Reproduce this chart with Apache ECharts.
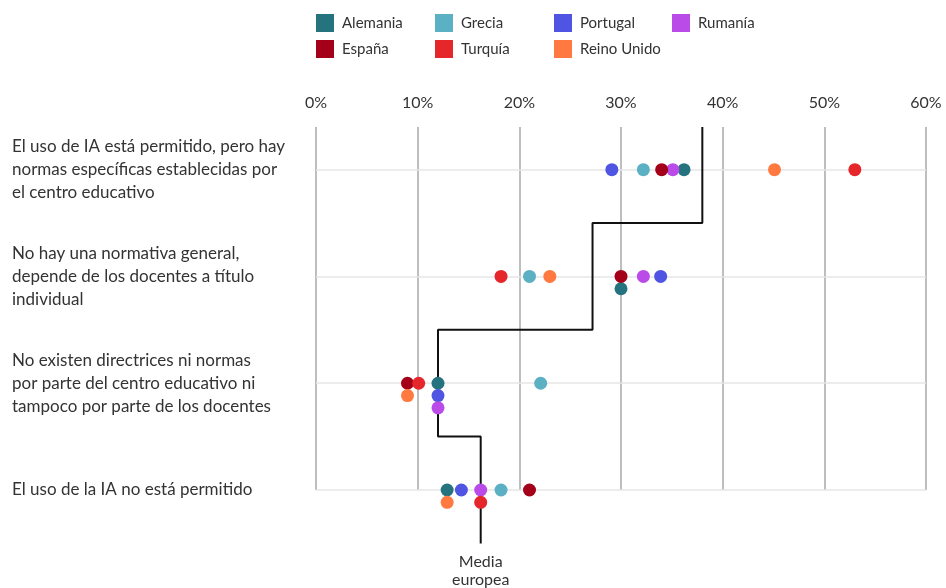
<!DOCTYPE html>
<html>
<head>
<meta charset="utf-8">
<script src="https://cdn.jsdelivr.net/npm/echarts@6/dist/echarts.min.js"></script>
<style>
  html, body { margin: 0; padding: 0; background: #fff; }
  #chart { width: 946px; height: 588px; }
</style>
</head>
<body>
<div id="chart"></div>
<script>
// filas (categorías)
const rowLabels = [
  'El uso de IA está permitido, pero hay\nnormas específicas establecidas por\nel centro educativo',
  'No hay una normativa general,\ndepende de los docentes a título\nindividual',
  'No existen directrices ni normas\npor parte del centro educativo ni\ntampoco por parte de los docentes',
  'El uso de la IA no está permitido'
];
const xTicks = [0, 10, 20, 30, 40, 50, 60];

// valores por país (%), una entrada por fila
const alemania = [36.2, 30.0, 12.0, 12.9];
const grecia = [32.2, 21.0, 22.1, 18.2];
const portugal = [29.1, 33.9, 12.0, 14.3];
const rumania = [35.1, 32.2, 12.0, 16.2];
const espana = [34.0, 30.0, 9.0, 21.0];
const turquia = [53.0, 18.2, 10.1, 16.2];
const reinoUnido = [45.1, 23.0, 9.0, 12.9];
const mediaEuropea = [38.0, 27.2, 12.0, 16.2];

const countries = [
  { name: 'Alemania', color: '#267380', data: alemania },
  { name: 'Grecia', color: '#5BB0C4', data: grecia },
  { name: 'Portugal', color: '#4F55E2', data: portugal },
  { name: 'Rumanía', color: '#BA4BE8', data: rumania },
  { name: 'España', color: '#A4001A', data: espana },
  { name: 'Turquía', color: '#E5262B', data: turquia },
  { name: 'Reino Unido', color: '#FF7940', data: reinoUnido }
];
// orden de apilado cuando dos países coinciden
const stackOrder = ['España', 'Alemania', 'Portugal', 'Rumanía', 'Reino Unido', 'Turquía', 'Grecia'];
const legendCols = [['Alemania', 'España'], ['Grecia', 'Turquía'], ['Portugal', 'Reino Unido'], ['Rumanía']];
const legendLeft = [316, 435, 554, 672];

const FONT = 'Lato';
const YMIN = -0.4;

// cuántos puntos hay ya en el mismo valor -> desplazamiento hacia abajo
const stackIdx = {};
rowLabels.forEach((_, r) => {
  const seen = {};
  stackOrder.forEach(n => {
    const c = countries.find(c => c.name === n);
    const key = c.data[r].toFixed(1);
    seen[key] = (seen[key] || 0);
    stackIdx[n + '_' + r] = seen[key];
    seen[key]++;
  });
});

const scatterSeries = countries.map(c => ({
  name: c.name,
  type: 'scatter',
  z: 4,
  symbolSize: 13,
  itemStyle: { color: c.color, opacity: 1 },
  data: c.data.map((v, r) => ({
    value: [v, r],
    symbolOffset: [0, stackIdx[c.name + '_' + r] * 12.3]
  }))
}));

// línea escalonada de la media
const meanPts = [];
mediaEuropea.forEach((m, r) => {
  meanPts.push([m, r === 0 ? YMIN : r - 0.5]);
  meanPts.push([m, r + 0.5]);
});
const lastPt = meanPts.pop();
meanPts.push({
  value: lastPt,
  label: {
    show: true, position: 'bottom', distance: 9,
    formatter: 'Media\neuropea',
    fontFamily: FONT, fontSize: 16, lineHeight: 18, color: '#333', align: 'center'
  }
});

const myChart = echarts.init(document.getElementById('chart'));
const option = {
  animation: false,
  textStyle: { fontFamily: FONT },
  legend: legendCols.map((col, i) => ({
    data: col,
    orient: 'vertical',
    left: legendLeft[i],
    top: 14,
    padding: 0,
    itemWidth: 18,
    itemHeight: 18,
    itemGap: 8,
    icon: 'rect',
    selectedMode: false,
    textStyle: { fontFamily: FONT, fontSize: 15, color: '#333', padding: [0, 0, 0, 3] }
  })),
  grid: { left: 316, right: 20, top: 127, bottom: 98, containLabel: false },
  xAxis: {
    type: 'value',
    position: 'top',
    min: xTicks[0],
    max: xTicks[xTicks.length - 1],
    interval: 10,
    axisLine: { show: false },
    axisTick: { show: false },
    axisLabel: { formatter: '{value}%', fontFamily: FONT, fontSize: 16, color: '#333', margin: 16 },
    splitLine: { show: true, lineStyle: { color: '#a8a8a8', width: 1.5 } }
  },
  yAxis: {
    type: 'value',
    inverse: true,
    min: YMIN,
    max: rowLabels.length - 1,
    axisLine: { show: false },
    axisTick: { show: false },
    splitLine: { show: false },
    axisLabel: {
      customValues: rowLabels.map((_, i) => i),
      formatter: v => rowLabels[Math.round(v)] || '',
      align: 'left',
      margin: 304,
      fontFamily: FONT, fontSize: 17, lineHeight: 23, color: '#333'
    }
  },
  series: [{
    name: 'Media europea',
    type: 'line',
    z: 2,
    clip: false,
    symbol: 'circle',
    symbolSize: 0,
    showAllSymbol: true,
    lineStyle: { color: '#111', width: 2 },
    itemStyle: { color: '#111' },
    data: meanPts,
    markLine: {
      z: 1,
      silent: true,
      symbol: 'none',
      label: { show: false },
      lineStyle: { color: '#e6e6e6', width: 1.5, type: 'solid' },
      data: rowLabels.map((_, i) => ({ yAxis: i }))
    }
  }].concat(scatterSeries)
};
myChart.setOption(option);
</script>
</body>
</html>
